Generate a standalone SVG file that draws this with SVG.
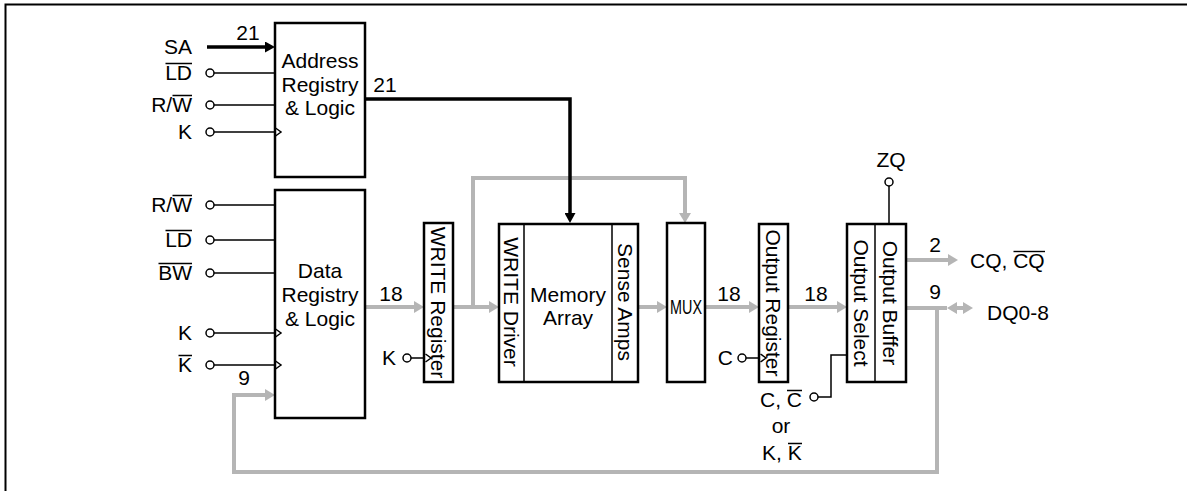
<svg xmlns="http://www.w3.org/2000/svg" width="1187" height="491" viewBox="0 0 1187 491">
<defs>
<style>
.t{font-family:"Liberation Sans",Arial,sans-serif;font-size:21px;fill:#000}
.box{fill:#fff;stroke:#000;stroke-width:2.5}
.dv{stroke:#000;stroke-width:1.5;fill:none}
.w{stroke:#000;stroke-width:1.5;fill:none}
.ol{stroke:#000;stroke-width:1.4;fill:none}
.pin{fill:#fff;stroke:#000;stroke-width:1.5}
.g{stroke:#b5b5b5;stroke-width:4;fill:none}
.gf{fill:#b5b5b5}
.bus{stroke:#000;stroke-width:3.5;fill:none}
</style>
<marker id="ga" markerUnits="userSpaceOnUse" markerWidth="10" markerHeight="12" refX="4" refY="6" orient="auto"><path d="M0,0 L10,6 L0,12 z" fill="#b5b5b5"/></marker>
<marker id="ba" markerUnits="userSpaceOnUse" markerWidth="10" markerHeight="11" refX="4" refY="5.5" orient="auto"><path d="M0,0 L10,5.5 L0,11 z" fill="#000"/></marker>
</defs>
<rect width="1187" height="491" fill="#fff"/>
<path d="M5.5,491 V4.5 H1187" stroke="#000" stroke-width="2" fill="none"/>

<g id="connectors">
<path class="g" d="M365,307 H418" marker-end="url(#ga)"/>
<path class="g" d="M453,307 H493" marker-end="url(#ga)"/>
<path class="g" d="M473,307 V178 H685 V217" marker-end="url(#ga)"/>
<path class="g" d="M638,307 H661" marker-end="url(#ga)"/>
<path class="g" d="M705,307 H753" marker-end="url(#ga)"/>
<path class="g" d="M788,307 H841" marker-end="url(#ga)"/>
<path class="g" d="M906,260 H952" marker-end="url(#ga)"/>
<path class="g" d="M906,308 H947"/>
<path class="gf" d="M947,308 L957,302 L957,306 L963,306 L963,302 L973,308 L963,314 L963,310 L957,310 L957,314 z"/>
<path class="g" d="M937,308 V472 H234 V395 H269" marker-end="url(#ga)"/>
<path class="bus" d="M207,47 H269" marker-end="url(#ba)"/>
<path class="bus" d="M365,99 H570 V217" marker-end="url(#ba)"/>
<text class="t" x="248" y="40" text-anchor="middle">21</text>
<text class="t" x="385" y="92" text-anchor="middle">21</text>
<text class="t" x="391" y="301" text-anchor="middle">18</text>
<text class="t" x="729" y="301" text-anchor="middle">18</text>
<text class="t" x="816" y="301" text-anchor="middle">18</text>
<text class="t" x="244" y="385" text-anchor="middle">9</text>
<text class="t" x="935" y="252" text-anchor="middle">2</text>
<text class="t" x="935" y="299" text-anchor="middle">9</text>
</g>

<g id="address">
<rect class="box" x="275" y="23" width="90" height="154"/>
<text class="t" x="320" y="68" text-anchor="middle">Address</text>
<text class="t" x="320" y="92" text-anchor="middle">Registry</text>
<text class="t" x="320" y="115" text-anchor="middle">&amp; Logic</text>
</g>
<g id="addr-inputs">
<text class="t" x="192" y="54" text-anchor="end">SA</text>
<text class="t" x="192" y="80" text-anchor="end">LD</text>
<text class="t" x="192" y="112" text-anchor="end">R/W</text>
<text class="t" x="192" y="139" text-anchor="end">K</text>
<path class="ol" d="M165.5,63.5 H192 M172.5,95.5 H192"/>
<path class="w" d="M214,73 H275 M214,105 H275 M214,132 H275 M275.5,128 L281,132 L275.5,136"/>
<circle class="pin" cx="210" cy="73" r="4"/>
<circle class="pin" cx="210" cy="105" r="4"/>
<circle class="pin" cx="210" cy="132" r="4"/>
</g>

<g id="data">
<rect class="box" x="275" y="190" width="90" height="228"/>
<text class="t" x="320" y="278" text-anchor="middle">Data</text>
<text class="t" x="320" y="302" text-anchor="middle">Registry</text>
<text class="t" x="320" y="326" text-anchor="middle">&amp; Logic</text>
</g>
<g id="data-inputs">
<text class="t" x="192" y="212" text-anchor="end">R/W</text>
<text class="t" x="192" y="247" text-anchor="end">LD</text>
<text class="t" x="192" y="280" text-anchor="end">BW</text>
<text class="t" x="192" y="340" text-anchor="end">K</text>
<text class="t" x="192" y="372" text-anchor="end">K</text>
<path class="ol" d="M172.5,195.5 H192 M165.5,230.5 H192 M158.5,263.5 H192 M178.5,355.5 H192"/>
<path class="w" d="M214,205 H275 M214,240 H275 M214,273 H275 M214,333 H275 M214,365 H275 M275.5,329 L281,333 L275.5,337 M275.5,361 L281,365 L275.5,369"/>
<circle class="pin" cx="210" cy="205" r="4"/>
<circle class="pin" cx="210" cy="240" r="4"/>
<circle class="pin" cx="210" cy="273" r="4"/>
<circle class="pin" cx="210" cy="333" r="4"/>
<circle class="pin" cx="210" cy="365" r="4"/>
</g>

<g id="write-register">
<rect class="box" x="424" y="223" width="29" height="159"/>
<text class="t" transform="translate(438.5,302.5) rotate(90)" y="7.5" text-anchor="middle">WRITE Register</text>
<text class="t" x="396" y="365" text-anchor="end">K</text>
<path class="w" d="M411,358 H425 M425.5,354 L431,358 L425.5,362"/>
<circle class="pin" cx="407" cy="358" r="4"/>
</g>

<g id="memory">
<rect class="box" x="499" y="224" width="139" height="158"/>
<path class="dv" d="M524,224 V382 M612,224 V382"/>
<text class="t" transform="translate(511.5,302) rotate(90)" y="7.5" text-anchor="middle">WRITE Driver</text>
<text class="t" x="568" y="302" text-anchor="middle">Memory</text>
<text class="t" x="568" y="325" text-anchor="middle">Array</text>
<text class="t" transform="translate(625,302) rotate(90)" y="7.5" text-anchor="middle">Sense Amps</text>
</g>

<g id="mux">
<rect class="box" x="667" y="223" width="38" height="159"/>
<text class="t" x="686" y="314" text-anchor="middle" textLength="32" lengthAdjust="spacingAndGlyphs">MUX</text>
</g>

<g id="output-register">
<rect class="box" x="759" y="224" width="29" height="158"/>
<text class="t" transform="translate(773.5,303) rotate(90)" y="7.5" text-anchor="middle">Output Register</text>
<text class="t" x="733" y="365" text-anchor="end">C</text>
<path class="w" d="M746,358 H760 M760.5,354 L766,358 L760.5,362"/>
<circle class="pin" cx="742" cy="358" r="4"/>
</g>

<g id="output-select-buffer">
<rect class="box" x="847" y="224" width="59" height="158"/>
<path class="dv" d="M875,224 V382"/>
<text class="t" transform="translate(861,303) rotate(90)" y="7.5" text-anchor="middle">Output Select</text>
<text class="t" transform="translate(890.5,303) rotate(90)" y="7.5" text-anchor="middle">Output Buffer</text>
<text class="t" x="891" y="167" text-anchor="middle">ZQ</text>
<path class="w" d="M889,186 V224"/>
<circle class="pin" cx="889" cy="182" r="4"/>
<path class="w" d="M847,355 H831 V397 H818"/>
<circle class="pin" cx="814" cy="397" r="4"/>
<text class="t" x="760" y="407">C, C</text>
<text class="t" x="781" y="433" text-anchor="middle">or</text>
<text class="t" x="762" y="460">K, K</text>
<path class="ol" d="M787,390.5 H802 M788,443.5 H802"/>
</g>

<g id="outputs">
<text class="t" x="970" y="268">CQ, CQ</text>
<path class="ol" d="M1013.5,251.5 H1045"/>
<text class="t" x="987" y="320">DQ0-8</text>
</g>
</svg>
